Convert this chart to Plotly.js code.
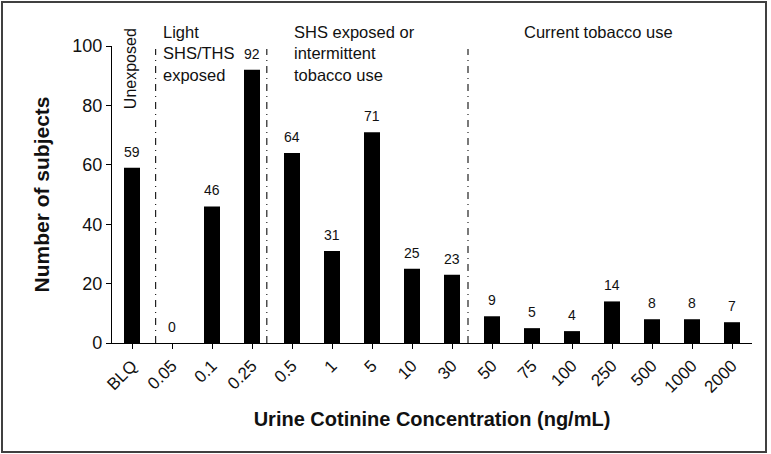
<!DOCTYPE html>
<html>
<head>
<meta charset="utf-8">
<script src="https://cdn.plot.ly/plotly-3.0.1.min.js"></script>
<style>
  body { margin: 0; background: #fff; }
  #chart { margin: 1px; border: 2px solid #404040; width: 762px; height: 448px; }
</style>
</head>
<body>
<div id="chart"></div>
<script>
// urine cotinine bins and subject counts
var concentrations = ["BLQ", "0.05", "0.1", "0.25", "0.5", "1", "5", "10", "30",
                      "50", "75", "100", "250", "500", "1000", "2000"];
var subjects = [59, 0, 46, 92, 64, 31, 71, 25, 23, 9, 5, 4, 14, 8, 8, 7];

// group boundaries (in category units) and group names
var boundaries = [0.59, 3.37, 8.4];
var groupNames = ["Light<br>SHS/THS<br>exposed", "SHS exposed or<br>intermittent<br>tobacco use", "Current tobacco use"];
var groupX = [0.72, 4.0, 9.75];

var font = "Liberation Sans, Arial, sans-serif";

var trace = {
    x: concentrations,
    y: subjects,
    type: "bar",
    marker: { color: "#000" },
    hoverinfo: "x+y"
};

var annotations = [];
for (var i = 0; i < subjects.length; i++) {
    // category axis: place value labels by category index
    annotations.push({
        x: i, y: subjects[i], xref: "x", yref: "y",
        text: String(subjects[i]), showarrow: false,
        yanchor: "bottom", yshift: 6,
        font: { family: font, size: 14, color: "#111" }
    });
}
for (var g = 0; g < groupNames.length; g++) {
    annotations.push({
        x: groupX[g], y: 1.085, xref: "x", yref: "paper",
        text: groupNames[g], showarrow: false, align: "left",
        xanchor: "left", yanchor: "top",
        font: { family: font, size: 16.5, color: "#111" }
    });
}
annotations.push({
    x: -0.05, y: 0.922, xref: "x", yref: "paper",
    xanchor: "center", yanchor: "middle",
    text: "Unexposed", textangle: -90, showarrow: false,
    font: { family: font, size: 16, color: "#111" }
});

var shapes = boundaries.map(function (b) {
    return {
        type: "line", xref: "x", yref: "y",
        x0: b, x1: b, y0: 0, y1: 99,
        line: { color: "#222", width: 1.2, dash: "7px,5px,1px,5px" }
    };
});

var layout = {
    width: 762,
    height: 448,
    margin: { l: 109, r: 13, t: 43, b: 108 },
    paper_bgcolor: "#fff",
    plot_bgcolor: "#fff",
    font: { family: font, color: "#111" },
    bargap: 0.6,
    showlegend: false,
    xaxis: {
        type: "category",
        range: [-0.5, 15.5],
        showline: true, linecolor: "#000", linewidth: 1.2,
        ticks: "outside", ticklen: 5, tickcolor: "#000",
        tickangle: -45,
        tickfont: { family: font, size: 17, color: "#111" },
        showgrid: false, zeroline: false, automargin: false,
        title: {
            text: "<b>Urine Cotinine Concentration (ng/mL)</b>",
            font: { family: font, size: 20, color: "#111" },
            standoff: 16
        }
    },
    yaxis: {
        range: [0, 100],
        tickvals: [0, 20, 40, 60, 80, 100],
        showline: true, linecolor: "#000", linewidth: 1.2,
        ticks: "outside", ticklen: 5, tickcolor: "#000",
        tickfont: { family: font, size: 18, color: "#111" },
        showgrid: false, zeroline: false, automargin: false,
        title: {
            text: "<b>Number of subjects</b>",
            font: { family: font, size: 21, color: "#111" },
            standoff: 16
        }
    },
    annotations: annotations,
    shapes: shapes
};

Plotly.newPlot("chart", [trace], layout, { displayModeBar: false, staticPlot: true });
</script>
</body>
</html>
